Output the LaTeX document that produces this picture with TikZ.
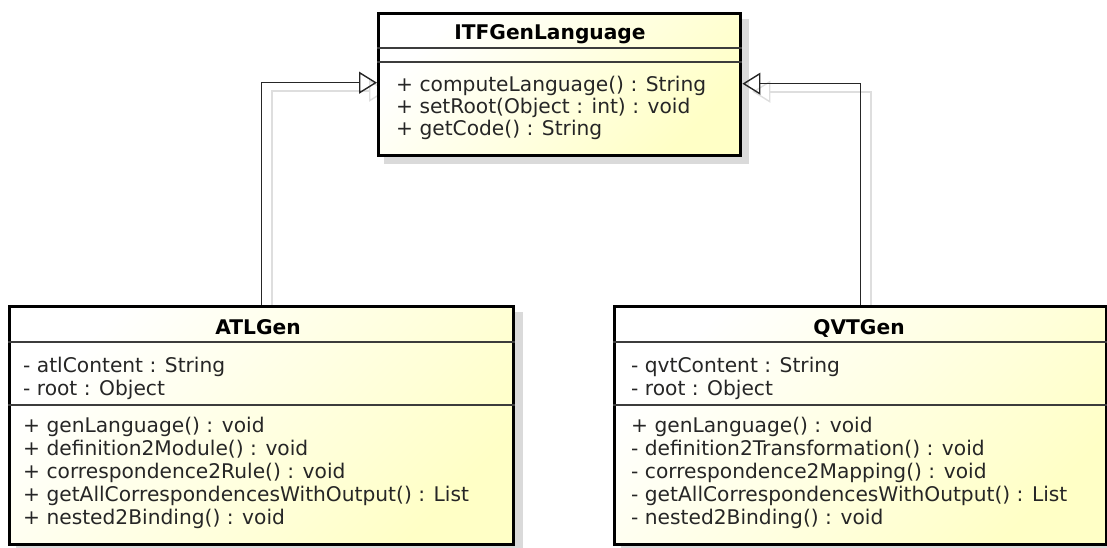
\documentclass[tikz,border=0pt]{standalone}
\usepackage{fontspec}
\setmainfont{DejaVu Sans}
\usetikzlibrary{arrows.meta,backgrounds}

\definecolor{paleyel}{RGB}{255,255,198}
\definecolor{boxshadow}{RGB}{218,218,218}
\definecolor{lineshadow}{RGB}{222,222,222}
\definecolor{ink}{RGB}{38,38,38}
\definecolor{sepline}{RGB}{60,60,60}

\tikzset{
  classbox/.style={draw=black, line width=3.4pt, rectangle, inner sep=0pt,
    top color=white, bottom color=paleyel, shading angle=45},
  boxshade/.style={fill=boxshadow},
  compsep/.style={draw=sepline, line width=1.3pt},
  member/.style={anchor=base west, inner sep=0pt, text=ink,
    font=\fontsize{20.2}{23}\selectfont},
  classname/.style={anchor=base, inner sep=0pt, text=black,
    font=\fontsize{20.2}{23}\selectfont\bfseries},
  realization/.style={draw=black!85, line width=1.4pt,
    -{Triangle[open, length=18pt, width=22pt, line width=1.4pt]}},
  realshadow/.style={draw=lineshadow, line width=1.6pt,
    -{Triangle[open, length=18pt, width=22pt, line width=1.4pt]}},
}

\begin{document}
\begin{tikzpicture}[x=1pt, y=-1pt]
  \useasboundingbox (0,0) rectangle (1107,547);

  % class boxes
  \node[classbox, anchor=north west, minimum width=362pt, minimum height=142pt] (itf) at (377,12) {};
  \node[classbox, anchor=north west, minimum width=504pt, minimum height=238pt] (atl) at (8,305) {};
  \node[classbox, anchor=north west, minimum width=492pt, minimum height=238pt] (qvt) at (613,305) {};

  % drop shadows of boxes and links
  \begin{pgfonlayer}{background}
    \fill[boxshade] ([shift={(7,7)}]itf.north west) rectangle ([shift={(7,7)}]itf.south east);
    \fill[boxshade] ([shift={(8,7)}]atl.north west) rectangle ([shift={(8,7)}]atl.south east);
    \fill[boxshade] ([shift={(8,7)}]qvt.north west) rectangle ([shift={(8,7)}]qvt.south east);
    \begin{scope}[transform canvas={shift={(10pt,-8pt)}}]
      \draw[realshadow] (atl.north) |- ([yshift=2pt]itf.west);
      \draw[realshadow] (qvt.north) |- ([yshift=1pt]itf.east);
    \end{scope}
  \end{pgfonlayer}

  % ---- ITFGenLanguage ----
  \draw[compsep] (itf.west |- 0,48) -- (itf.east |- 0,48);
  \draw[compsep] (itf.west |- 0,62) -- (itf.east |- 0,62);
  \node[classname] (itfname) at (550,39) {ITFGenLanguage};
  \foreach \m [count=\i] in {{+ computeLanguage() : String},
                             {+ setRoot(Object : int) : void},
                             {+ getCode() : String}}
    \node[member] (itfop\i) at (396,{91+22*(\i-1)}) {\m};

  % ---- ATLGen ----
  \draw[compsep] (atl.west |- 0,342) -- (atl.east |- 0,342);
  \draw[compsep] (atl.west |- 0,405) -- (atl.east |- 0,405);
  \node[classname] (atlname) at (258,334) {ATLGen};
  \foreach \m [count=\i] in {{- atlContent : String},
                             {- root : Object}}
    \node[member] (atlat\i) at (23,{372+23*(\i-1)}) {\m};
  \foreach \m [count=\i] in {{+ genLanguage() : void},
                             {+ definition2Module() : void},
                             {+ correspondence2Rule() : void},
                             {+ getAllCorrespondencesWithOutput() : List},
                             {+ nested2Binding() : void}}
    \node[member] (atlop\i) at (23,{432+23*(\i-1)}) {\m};

  % ---- QVTGen ----
  \draw[compsep] (qvt.west |- 0,342) -- (qvt.east |- 0,342);
  \draw[compsep] (qvt.west |- 0,405) -- (qvt.east |- 0,405);
  \node[classname] (qvtname) at (859,334) {QVTGen};
  \foreach \m [count=\i] in {{- qvtContent : String},
                             {- root : Object}}
    \node[member] (qvtat\i) at (631,{372+23*(\i-1)}) {\m};
  \foreach \m [count=\i] in {{+ genLanguage() : void},
                             {- definition2Transformation() : void},
                             {- correspondence2Mapping() : void},
                             {- getAllCorrespondencesWithOutput() : List},
                             {- nested2Binding() : void}}
    \node[member] (qvtop\i) at (631,{432+23*(\i-1)}) {\m};

  % realization links to the interface
  \draw[realization] (atl.north) |- ([yshift=2pt]itf.west);
  \draw[realization] (qvt.north) |- ([yshift=1pt]itf.east);
\end{tikzpicture}
\end{document}
